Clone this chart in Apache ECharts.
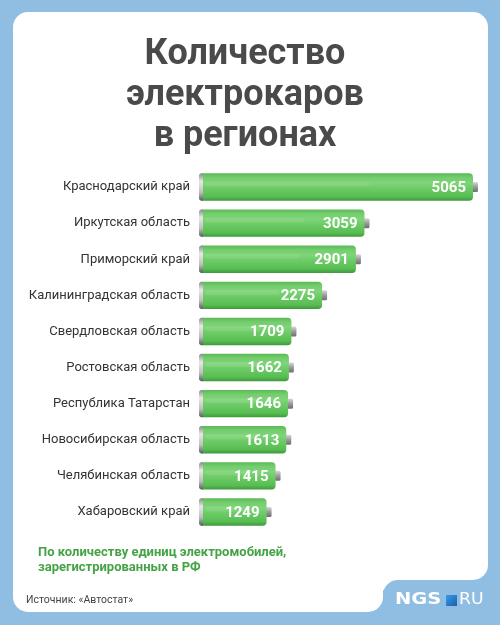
<!DOCTYPE html>
<html><head><meta charset="utf-8">
<script src="https://cdn.jsdelivr.net/npm/echarts@6/dist/echarts.min.js"></script>
<style>html,body{margin:0;padding:0;background:#90bde2;}#c{width:500px;height:625px;}</style>
</head><body><div id="c"></div>
<script>
const categories = ["Краснодарский край","Иркутская область","Приморский край","Калининградская область","Свердловская область","Ростовская область","Республика Татарстан","Новосибирская область","Челябинская область","Хабаровский край"];
const values = [5065,3059,2901,2275,1709,1662,1646,1613,1415,1249];
const titleText = "Количество\nэлектрокаров\nв регионах";
const noteText = "По количеству единиц электромобилей,\nзарегистрированных в РФ";
const sourceText = "Источник: «Автостат»";

const chart = echarts.init(document.getElementById('c'), null, {renderer:'canvas'});
const FONT = 'Roboto, "Noto Sans", sans-serif';
const BLUE = '#90bde2';

function renderBattery(params, api){
  const idx = api.value(0);
  const val = api.value(1);
  const p0 = api.coord([0, idx]);
  const p1 = api.coord([val, idx]);
  const h = api.size([0,1])[1]*0.76;
  const x0 = p0[0], x1 = p1[0], yc = p0[1];
  const y = yc - h/2;
  return {
    type:'group',
    children:[
      {type:'rect', shape:{x:x1-1, y:yc-5, width:6, height:10, r:1.5},
       style:{fill:new echarts.graphic.LinearGradient(0,0,0,1,[{offset:0,color:'#d8d8d8'},{offset:0.5,color:'#9a9a9a'},{offset:1,color:'#6e6e6e'}])}},
      {type:'rect', shape:{x:x0, y:y, width:x1-x0, height:h, r:4},
       style:{fill:new echarts.graphic.LinearGradient(0,0,0,1,[{offset:0,color:'#5ab955'},{offset:0.15,color:'#72cd6c'},{offset:0.35,color:'#80d47a'},{offset:0.55,color:'#6ccb66'},{offset:0.85,color:'#58bd52'},{offset:1,color:'#3e993d'}])}},
      {type:'rect', shape:{x:x0+6, y:y+h*0.3, width:(x1-x0)*0.6, height:h*0.18, r:2},
       style:{fill:'rgba(255,255,255,0.08)'}},
      {type:'rect', shape:{x:x0, y:y, width:4, height:h, r:[3,0,0,3]},
       style:{fill:new echarts.graphic.LinearGradient(0,0,0,1,[{offset:0,color:'#8a8a8a'},{offset:0.3,color:'#e8e8e8'},{offset:0.7,color:'#bdbdbd'},{offset:1,color:'#5c5c5c'}])}},
      {type:'text', style:{text:String(val), x:x1-7, y:yc+1, align:'right', verticalAlign:'middle',
        fill:'#ffffff', font:'bold 15px '+FONT}}
    ]
  };
}

const option = {
  backgroundColor: BLUE,
  animation:false,
  graphic:[
    {type:'rect', z:-10, shape:{x:13,y:12,width:475,height:568,r:15}, style:{fill:'#ffffff'}},
    {type:'rect', z:-10, shape:{x:13,y:540,width:370,height:72,r:[0,0,15,15]}, style:{fill:'#ffffff'}},
    {type:'rect', z:-10, shape:{x:370,y:560,width:40,height:30}, style:{fill:'#ffffff'}},
    {type:'rect', z:-9, shape:{x:383,y:580,width:130,height:60,r:[15,0,0,0]}, style:{fill:BLUE}},
    {type:'text', z:10, style:{text:titleText, x:245, y:34, align:'center', fill:'#4a4a4a', font:'bold 36px '+FONT, lineHeight:41}},
    {type:'text', z:10, style:{text:noteText, x:38, y:545, fill:'#45a345', font:'bold 13px '+FONT, lineHeight:15}},
    {type:'text', z:10, style:{text:sourceText, x:26, y:595, fill:'#444444', font:'10.5px '+FONT}},
    {type:'text', z:10, x:395, y:600, scaleX:1.3, style:{text:'NGS', x:0, y:0, verticalAlign:'middle', fill:'#ffffff', font:'bold 15px "DejaVu Sans", sans-serif'}},
    {type:'rect', z:10, shape:{x:446,y:595,width:11,height:11}, style:{fill:new echarts.graphic.LinearGradient(0,0,1,1,[{offset:0,color:'#3a9be0'},{offset:1,color:'#1a5fb0'}])}},
    {type:'text', z:10, x:459, y:600, scaleX:1.15, style:{text:'RU', x:0, y:0, verticalAlign:'middle', fill:'#ffffff', font:'15px "DejaVu Sans", sans-serif'}}
  ],
  grid:{left:199, top:169, width:274, height:361, containLabel:false},
  xAxis:{type:'value', min:0, max:5065, show:false},
  yAxis:{type:'category', data:categories, inverse:true,
    axisLine:{show:false}, axisTick:{show:false}, splitLine:{show:false},
    axisLabel:{color:'#333333', fontSize:13, fontFamily:FONT, margin:9}},
  series:[{
    type:'custom', renderItem:renderBattery,
    data: values.map((v,i)=>[i,v]),
    encode:{x:1, y:0}
  }]
};
chart.setOption(option);
</script></body></html>
